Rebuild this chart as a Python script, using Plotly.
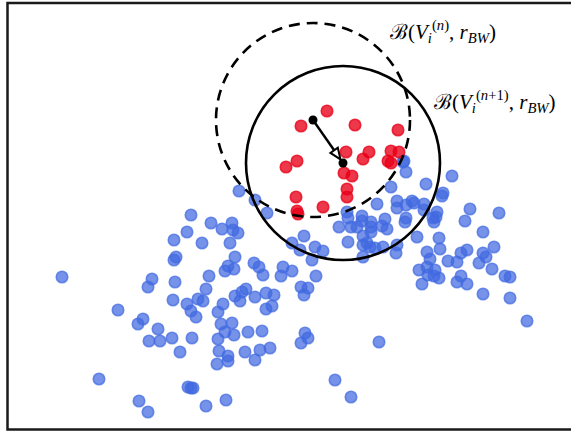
import numpy as np
import plotly.graph_objects as go

# ---- data (pixel-like units, y grows downward) ----
blue_x = [239, 255, 267, 191, 211, 222, 232, 233, 238, 187, 174, 202, 230, 176, 174, 235,
          62, 152, 148, 175, 209, 228, 225, 234, 254, 259, 263, 283, 281, 206, 173, 198,
          203, 187, 191, 196, 223, 218, 235, 240, 246, 242, 255, 266, 274, 266, 272, 118,
          143, 138, 158, 149, 160, 172, 192, 180, 221, 232, 225, 234, 218, 248, 262, 219,
          228, 228, 217, 245, 260, 270, 255, 99, 188, 191, 193, 139, 148, 206, 226,
          404, 406, 452, 426, 391, 443, 442, 377, 397, 397, 406, 412, 414, 424, 424, 437,
          433, 436, 434, 470, 465, 499, 406, 405, 347, 348, 362, 362, 371, 371, 385, 382,
          387, 339, 351, 357, 363, 371, 348, 363, 367, 370, 375, 383, 397, 396, 363, 417,
          439, 440, 427, 430, 419, 427, 428, 435, 439, 434, 422, 448, 457, 461, 467, 483,
          483, 486, 479, 494, 492, 505, 510, 461, 457, 467, 483, 510, 527, 304, 292, 300,
          315, 323, 312, 292, 316, 301, 308, 304, 305, 308, 301, 379, 335, 351, 403]
blue_y = [191, 200, 213, 215, 223, 229, 223, 230, 233, 232, 240, 243, 243, 257, 260, 257,
          277, 279, 287, 282, 276, 266, 271, 269, 263, 267, 275, 267, 276, 289, 300, 299,
          301, 304, 311, 317, 304, 312, 296, 301, 289, 292, 297, 293, 295, 309, 306, 310,
          319, 324, 329, 341, 341, 338, 338, 352, 324, 323, 332, 335, 339, 332, 331, 351,
          356, 361, 364, 352, 350, 348, 360, 379, 387, 388, 388, 401, 412, 406, 400,
          161, 172, 176, 184, 187, 193, 196, 204, 201, 208, 205, 201, 203, 204, 210, 212,
          218, 217, 222, 209, 221, 213, 218, 222, 212, 218, 216, 221, 222, 227, 219, 226,
          229, 227, 227, 227, 236, 232, 242, 245, 243, 247, 248, 247, 245, 253, 257, 237,
          238, 249, 252, 259, 270, 267, 275, 270, 278, 276, 284, 261, 262, 253, 250, 232,
          253, 257, 263, 247, 269, 276, 277, 276, 282, 284, 294, 298, 321, 236, 243, 250,
          247, 251, 260, 271, 276, 287, 288, 295, 333, 338, 343, 342, 380, 397, 162]

red_x = [327, 301, 355, 398, 346, 369, 363, 391, 399, 388, 391, 297, 286, 344, 352, 347,
         347, 296, 323, 297, 298]
red_y = [111, 126, 125, 130, 152, 152, 159, 151, 152, 161, 163, 161, 167, 173, 176, 189,
         197, 197, 207, 211, 214]

# centres of the ball before / after the shift, and the ball radius
centre_x = [313, 343]
centre_y = [120, 163]
radius_bw = 97

label_n = "ℬ(<i>V</i><sub><i>i</i></sub><sup>(<i>n</i>)</sup>, <i>r</i><sub><i>BW</i></sub>)"
label_n1 = "ℬ(<i>V</i><sub><i>i</i></sub><sup>(<i>n</i>+1)</sup>, <i>r</i><sub><i>BW</i></sub>)"

W, H = 571, 432
fig = go.Figure()

blue = "rgba(65,105,225,0.72)"
red = "rgba(232,0,24,0.78)"
fig.add_trace(go.Scatter(x=blue_x, y=blue_y, mode="markers",
                         marker=dict(size=11.5, color=blue, line=dict(width=1.6, color=blue)),
                         hoverinfo="skip"))
fig.add_trace(go.Scatter(x=red_x, y=red_y, mode="markers",
                         marker=dict(size=11.5, color=red, line=dict(width=1.6, color=red)),
                         hoverinfo="skip"))

# circles
fig.add_shape(type="circle", xref="x", yref="y",
              x0=centre_x[0] - radius_bw, x1=centre_x[0] + radius_bw,
              y0=centre_y[0] - radius_bw, y1=centre_y[0] + radius_bw,
              line=dict(color="black", width=2.6, dash="11px,7px"), layer="above")
fig.add_shape(type="circle", xref="x", yref="y",
              x0=centre_x[1] - radius_bw, x1=centre_x[1] + radius_bw,
              y0=centre_y[1] - radius_bw, y1=centre_y[1] + radius_bw,
              line=dict(color="black", width=2.6), layer="above")

# arrow from old centre to new centre (hollow head)
sx, sy, ex, ey = centre_x[0], centre_y[0], centre_x[1], centre_y[1]
d = np.array([ex - sx, ey - sy], dtype=float)
u = d / np.linalg.norm(d)
n = np.array([-u[1], u[0]])
tip = np.array([ex, ey]) - u * 4.5
base = tip - u * 11
p1 = base + n * 4.5
p2 = base - n * 4.5
fig.add_trace(go.Scatter(x=[sx, base[0]], y=[sy, base[1]], mode="lines",
                         line=dict(color="black", width=2.4), hoverinfo="skip"))
path = f"M {tip[0]},{tip[1]} L {p1[0]},{p1[1]} L {p2[0]},{p2[1]} Z"
fig.add_shape(type="path", xref="x", yref="y", path=path,
              line=dict(color="black", width=2), fillcolor="white", layer="above")
fig.add_trace(go.Scatter(x=centre_x, y=centre_y, mode="markers",
                         marker=dict(size=9, color="black"), hoverinfo="skip"))

# frame
fig.add_shape(type="rect", xref="x", yref="y", x0=7.5, x1=590, y0=3, y1=429.5,
              line=dict(color="#1a1a1a", width=2.5), layer="above")

font = dict(family="Liberation Serif, DejaVu Serif, serif", size=21, color="black")
fig.add_annotation(x=388, y=31, xref="x", yref="y", text=label_n, showarrow=False,
                   xanchor="left", yanchor="middle", font=font)
fig.add_annotation(x=432, y=101, xref="x", yref="y", text=label_n1, showarrow=False,
                   xanchor="left", yanchor="middle", font=font)

fig.update_layout(width=W, height=H, margin=dict(l=0, r=0, t=0, b=0),
                  paper_bgcolor="white", plot_bgcolor="white", showlegend=False,
                  xaxis=dict(range=[0, W], visible=False, fixedrange=True),
                  yaxis=dict(range=[H, 0], visible=False, fixedrange=True))
fig.write_html("out.html")
